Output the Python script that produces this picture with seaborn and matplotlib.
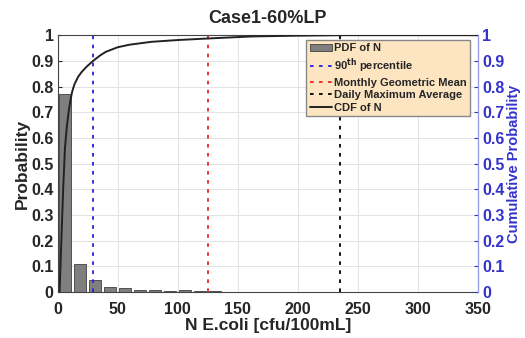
import numpy as np
import pandas as pd
import matplotlib
matplotlib.use("Agg")
import matplotlib.pyplot as plt
import seaborn as sns

# data
bin_centers = [6.25, 18.75, 31.25, 43.75, 56.25, 68.75, 81.25, 93.75, 106.25, 118.75, 131.25, 143.75]
pdf_vals = [0.77, 0.11, 0.045, 0.02, 0.016, 0.009, 0.007, 0.005, 0.006, 0.004, 0.004, 0.002]
cdf_x = [1.5, 3, 4.5, 6, 7.5, 9, 10.5, 12, 14, 17, 20, 24, 29.5, 35, 40, 50, 60, 78, 100, 125, 162, 200, 240, 350]
cdf_y = [0.0, 0.2, 0.4, 0.56, 0.64, 0.7, 0.745, 0.78, 0.81, 0.838, 0.857, 0.877, 0.9, 0.92, 0.935, 0.953, 0.963, 0.974, 0.981, 0.987, 0.995, 0.998, 1.0, 1.0]
p90 = 29.5
monthly_gm = 125
daily_max = 235
x_ticks = [0, 50, 100, 150, 200, 250, 300, 350]
y_ticks = [0, 0.1, 0.2, 0.3, 0.4, 0.5, 0.6, 0.7, 0.8, 0.9, 1]
y_labels = ["0", "0.1", "0.2", "0.3", "0.4", "0.5", "0.6", "0.7", "0.8", "0.9", "1"]

sns.set_style("white")
plt.rcParams['font.family'] = ['Liberation Sans', 'DejaVu Sans']
plt.rcParams['font.weight'] = 'bold'
plt.rcParams['mathtext.default'] = 'bf'

fig = plt.figure(figsize=(5.25, 3.38), dpi=100)
ax = fig.add_axes([0.110, 0.136, 0.800, 0.760])

df = pd.DataFrame({"N": bin_centers, "p": pdf_vals})
sns.histplot(data=df, x="N", weights="p", binwidth=12.5, binrange=(0, 150), shrink=0.8,
             color="#7f7f7f", edgecolor="#404040", linewidth=0.6, alpha=1, ax=ax,
             label="PDF of N")

ax.axvline(p90, color="#2222dd", ls=(0, (2, 3)), lw=1.3, label="90$^{th}$ percentile")
ax.axvline(monthly_gm, color="#ee2222", ls=(0, (2, 3)), lw=1.3, label="Monthly Geometric Mean")
ax.axvline(daily_max, color="black", ls=(0, (2, 3)), lw=1.3, label="Daily Maximum Average")

ax.set_xlim(0, 350)
ax.set_ylim(0, 1)
ax.set_xticks(x_ticks)
ax.set_xticklabels([str(t) for t in x_ticks])
ax.set_yticks(y_ticks)
ax.set_yticklabels(y_labels)
ax.grid(True, color="#e3e3e3", lw=0.7)
ax.set_axisbelow(True)
ax.tick_params(direction="in", labelsize=11.5, length=3, pad=3)
ax.tick_params(axis="x", pad=7)
for t in ax.get_xticklabels() + ax.get_yticklabels():
    t.set_fontweight("bold")
ax.set_xlabel("N E.coli [cfu/100mL]", fontsize=12.5, fontweight="bold", labelpad=1)
ax.set_ylabel("Probability", fontsize=12.5, fontweight="bold", labelpad=1)
ax.set_title("Case1-60%LP", fontsize=13, fontweight="bold", pad=9)
for s in ax.spines.values():
    s.set_color("#444444")
    s.set_linewidth(0.8)

ax2 = ax.twinx()
cdf_df = pd.DataFrame({"x": cdf_x, "y": cdf_y})
sns.lineplot(data=cdf_df, x="x", y="y", color="#222222", lw=1.4, ax=ax2, label="CDF of N")
ax2.set_ylim(0, 1)
ax2.set_xlim(0, 350)
ax2.set_yticks(y_ticks)
ax2.set_yticklabels(y_labels)
ax2.tick_params(direction="in", labelsize=11.5, colors="#3434cc", length=3, pad=3)
for t in ax2.get_yticklabels():
    t.set_fontweight("bold")
ax2.set_ylabel("Cumulative Probability", fontsize=10.5, fontweight="bold", color="#3434cc", labelpad=2)
ax2.spines["right"].set_color("#9999ee")
ax2.spines["left"].set_visible(False)
ax2.spines["top"].set_visible(False)
ax2.spines["bottom"].set_visible(False)
if ax2.get_legend() is not None:
    ax2.get_legend().remove()

h1, lab1 = ax.get_legend_handles_labels()
h2, lab2 = ax2.get_legend_handles_labels()
order = [i for i, l in enumerate(lab1) if l == "PDF of N"] + [i for i, l in enumerate(lab1) if l != "PDF of N"]
handles = [h1[i] for i in order] + h2
labels = [lab1[i] for i in order] + lab2
leg = ax2.legend(handles, labels, loc="upper right", bbox_to_anchor=(0.985, 0.985),
                 prop={"weight": "bold", "size": 8}, frameon=True, fancybox=False,
                 handlelength=2.0, handletextpad=0.2, borderpad=0.3, labelspacing=0.25,
                 borderaxespad=0.1)
leg.get_frame().set_facecolor("#fde5c2")
leg.get_frame().set_edgecolor("#888888")
leg.get_frame().set_alpha(1)

fig.savefig("out.png", dpi=100)
